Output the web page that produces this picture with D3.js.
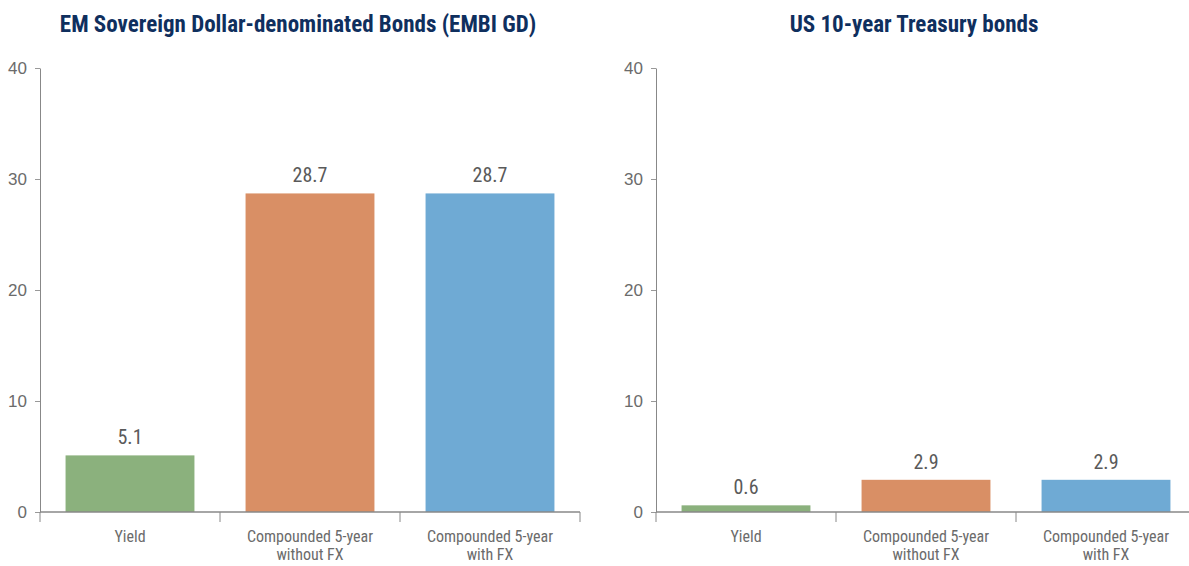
<!DOCTYPE html>
<html>
<head>
<meta charset="utf-8">
<script src="https://cdn.jsdelivr.net/npm/d3@7"></script>
<style>
  body { margin: 0; background: #fff; }
  svg { font-family: "Liberation Sans Narrow", "Roboto Condensed", "Liberation Sans", sans-serif; }
</style>
</head>
<body>
<svg width="1189" height="566"></svg>
<script>
var categories = ["Yield", "Compounded 5-year\nwithout FX", "Compounded 5-year\nwith FX"];
var emValues = [5.1, 28.7, 28.7];
var usValues = [0.6, 2.9, 2.9];
var titles = ["EM Sovereign Dollar-denominated Bonds (EMBI GD)", "US 10-year Treasury bonds"];
var yTicks = [0, 10, 20, 30, 40];
var colors = ["#8bb17d", "#d98f65", "#6faad4"];

var svg = d3.select("svg");

function drawPanel(left, title, values){
  var y = d3.scaleLinear().domain([0, 40]).range([512, 68]);
  var x = d3.scaleBand().domain(categories).range([left, left + 540]).paddingInner(0.284).paddingOuter(0.142);

  var g = svg.append("g");

  g.append("text")
    .attr("x", left + 258)
    .attr("y", 32)
    .attr("text-anchor", "middle")
    .style("font-size", "23px")
    .style("font-weight", "bold")
    .style("fill", "#0f2f5e")
    .text(title);

  var yAxis = g.append("g")
    .attr("transform", "translate(" + left + ",0)")
    .call(d3.axisLeft(y).tickValues(yTicks).tickSize(5).tickSizeOuter(0).tickPadding(8));
  yAxis.select(".domain").attr("stroke", "#888");
  yAxis.selectAll(".tick line").attr("stroke", "#999");
  yAxis.selectAll(".tick text").style("font-size", "17px").style("fill", "#6b6b6b").style("font-family", null);

  g.selectAll("rect.bar")
    .data(values)
    .enter()
    .append("rect")
    .attr("class", "bar")
    .attr("x", function(d, i) { return x(categories[i]); })
    .attr("width", x.bandwidth())
    .attr("y", function(d) { return y(d); })
    .attr("height", function(d) { return y(0) - y(d); })
    .style("fill", function(d, i) { return colors[i]; });

  g.selectAll("text.val")
    .data(values)
    .enter()
    .append("text")
    .attr("class", "val")
    .attr("x", function(d, i) { return x(categories[i]) + x.bandwidth() / 2; })
    .attr("y", function(d) { return y(d) - 11; })
    .attr("text-anchor", "middle")
    .style("font-size", "20px")
    .style("fill", "#5a5a5a")
    .text(function(d) { return d.toFixed(1); });

  // x axis line and band separators
  g.append("line")
    .attr("x1", left).attr("x2", left + 540)
    .attr("y1", y(0)).attr("y2", y(0))
    .attr("stroke", "#888").attr("stroke-width", 1.5);
  g.selectAll("line.sep")
    .data(d3.range(categories.length + 1))
    .enter()
    .append("line")
    .attr("class", "sep")
    .attr("x1", function(i) { return left + i * 180; })
    .attr("x2", function(i) { return left + i * 180; })
    .attr("y1", y(0)).attr("y2", y(0) + 10)
    .attr("stroke", "#888");

  categories.forEach(function(c, i){
    var lines = c.split("\n");
    var t = g.append("text")
      .attr("x", x(c) + x.bandwidth() / 2)
      .attr("y", 542)
      .attr("text-anchor", "middle")
      .style("font-size", "16px")
      .style("fill", "#6b6b6b");
    lines.forEach(function(l, j){
      t.append("tspan").attr("x", x(c) + x.bandwidth() / 2).attr("dy", j ? 18 : 0).text(l);
    });
  });
}

drawPanel(40, titles[0], emValues);
drawPanel(656, titles[1], usValues);
</script>
</body>
</html>
